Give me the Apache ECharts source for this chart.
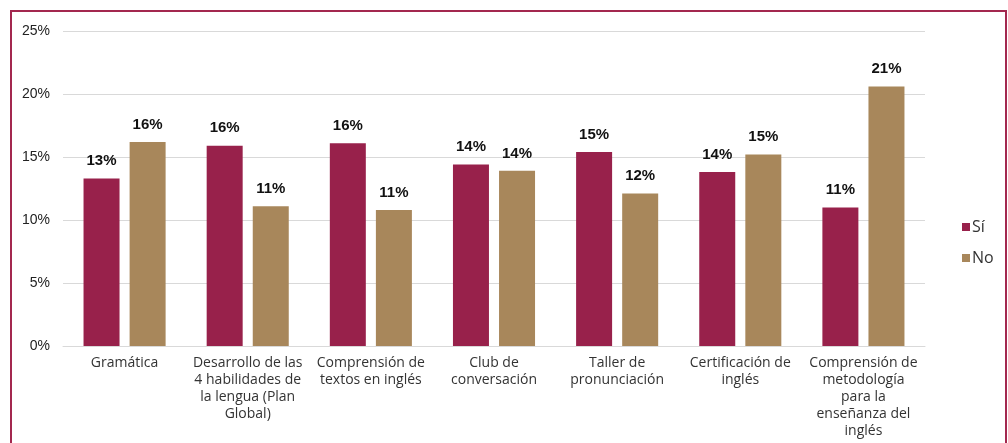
<!DOCTYPE html>
<html>
<head>
<meta charset="UTF-8">
<title>Sí / No por tema</title>
<script src="https://cdn.jsdelivr.net/npm/echarts@6/dist/echarts.min.js"></script>
<style>
    body { margin: 0; background: #fff; }
    #chart { width: 1008px; height: 443px; }
</style>
</head>
<body>
<div id="chart"></div>
<script>
// categorías del eje x
var categorias = [
    'Gramática',
    'Desarrollo de las\n4 habilidades de\nla lengua (Plan\nGlobal)',
    'Comprensión de\ntextos en inglés',
    'Club de\nconversación',
    'Taller de\npronunciación',
    'Certificación de\ninglés',
    'Comprensión de\nmetodología\npara la\nenseñanza del\ninglés'
];
// porcentajes
var valoresSi = [13.3, 15.9, 16.1, 14.4, 15.4, 13.8, 11.0];
var valoresNo = [16.2, 11.1, 10.8, 13.9, 12.1, 15.2, 20.6];

var chart = echarts.init(document.getElementById('chart'));

var etiqueta = {
    show: true,
    position: 'top',
    distance: 10,
    color: '#111',
    fontWeight: 'bold',
    fontSize: 15,
    fontFamily: 'Liberation Sans, Arial, sans-serif',
    formatter: function (p) { return Math.round(p.value) + '%'; }
};

chart.setOption({
    animation: false,
    graphic: [{
        type: 'rect',
        shape: { x: 11, y: 11, width: 995, height: 460 },
        style: { fill: 'none', stroke: '#A3284F', lineWidth: 2 }
    }],
    grid: { left: 63, right: 83, top: 31, bottom: 97 },
    legend: {
        orient: 'vertical',
        left: 957,
        top: 214,
        itemWidth: 8,
        itemHeight: 8,
        itemGap: 15,
        icon: 'rect',
        textStyle: { fontSize: 16, color: '#333', fontFamily: 'Open Sans, sans-serif', padding: [0, 0, 0, -3] },
        data: ['Sí', 'No']
    },
    xAxis: {
        type: 'category',
        data: categorias,
        axisTick: { show: false },
        axisLine: { lineStyle: { color: '#d9d9d9' } },
        axisLabel: {
            interval: 0,
            margin: 9,
            color: '#333',
            fontSize: 14,
            lineHeight: 17,
            fontFamily: 'Open Sans, sans-serif'
        }
    },
    yAxis: {
        type: 'value',
        min: 0,
        max: 25,
        interval: 5,
        axisLine: { show: false },
        axisTick: { show: false },
        splitLine: { lineStyle: { color: '#d9d9d9' } },
        axisLabel: {
            formatter: '{value}%',
            color: '#222',
            fontSize: 14,
            margin: 13,
            fontFamily: 'Liberation Sans, Arial, sans-serif'
        }
    },
    series: [
        {
            name: 'Sí',
            type: 'bar',
            data: valoresSi,
            barWidth: 36,
            barGap: '28%',
            itemStyle: { color: '#98214B' },
            label: etiqueta
        },
        {
            name: 'No',
            type: 'bar',
            data: valoresNo,
            barWidth: 36,
            itemStyle: { color: '#A8875B' },
            label: etiqueta
        }
    ]
});
</script>
</body>
</html>
